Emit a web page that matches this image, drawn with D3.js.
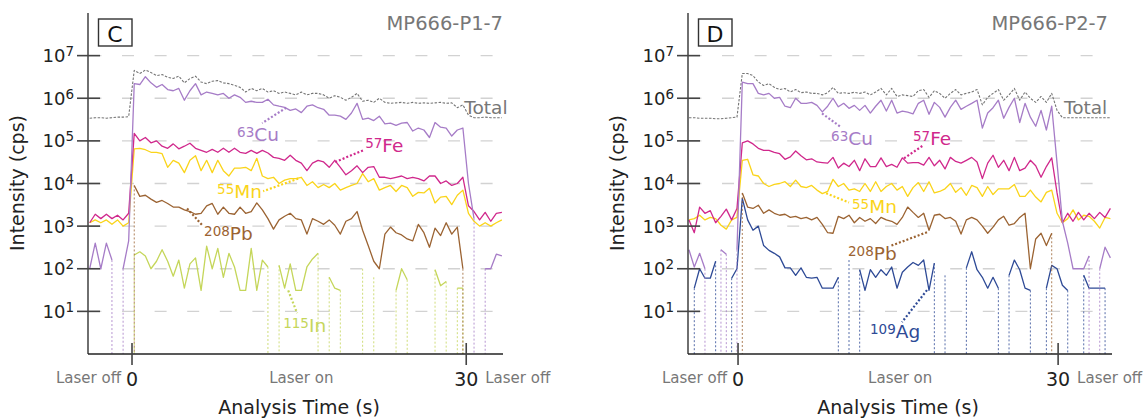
<!DOCTYPE html>
<html>
<head>
<meta charset="utf-8">
<script src="https://cdn.jsdelivr.net/npm/d3@7"></script>
<style>
body { margin: 0; background: #fff; }
svg { display: block; font-family: "DejaVu Sans", Verdana, sans-serif; }
</style>
</head>
<body>
<svg id="chart" width="1146" height="420"></svg>
<script>
// sampling times (s), one reading every 0.5 s
var timeC = d3.range(-3.8, 33.25, 0.5);
var timeD = d3.range(-4.6, 34.95, 0.5);

// ---- panel C : MP666-P1-7 (cps), 0 = no counts
var totalC = [3.4e5, 3.5e5, 3.5e5, 3.4e5, 3.5e5, 3.6e5, 3.6e5, 3.7e5,
  4.5e6, 3.8e6, 4.6e6, 4.0e6, 3.4e6, 3.6e6, 3.1e6, 2.9e6, 3.3e6, 2.3e6,
  2.9e6, 3.3e6, 2.4e6, 2.2e6, 2.5e6, 2.6e6, 2.3e6, 2.2e6, 2.0e6, 1.8e6,
  1.4e6, 1.7e6, 1.5e6, 1.7e6, 1.4e6, 1.5e6, 1.3e6, 1.4e6, 1.3e6, 1.2e6,
  1.4e6, 1.2e6, 1.3e6, 1.3e6, 1.2e6, 1.0e6, 1.15e6, 1.05e6, 9e5, 1.05e6,
  1.3e6, 8.5e5, 9e5, 8e5, 1.0e6, 8e5, 7.6e5, 7.8e5, 8e5, 7.6e5,
  8e5, 7.6e5, 7.8e5, 7.6e5, 7.8e5, 8e5, 7.6e5, 7.8e5, 6e5, 7e5,
  4e5, 3.5e5, 3.5e5, 3.6e5, 3.5e5, 3.5e5, 3.5e5];
var cuC = [100, 400, 100, 400, 160, 0, 100, 450,
  2.2e6, 2.1e6, 3.2e6, 2.3e6, 1.8e6, 2.1e6, 1.6e6, 1.5e6, 1.7e6, 9e5,
  1.5e6, 2.2e6, 1.2e6, 1.4e6, 1.3e6, 1.2e6, 1.3e6, 1.0e6, 1.2e6, 1.05e6,
  8e5, 8.5e5, 8e5, 8e5, 9.5e5, 7e5, 6.5e5, 6.1e5, 5.2e5, 5.6e5,
  4.6e5, 6.5e5, 7e5, 6e5, 5.5e5, 4e5, 4e5, 3.8e5, 3.2e5, 4.5e5,
  7.6e5, 3.2e5, 3.4e5, 3.0e5, 3.8e5, 2.5e5, 2.6e5, 2.3e5, 2.6e5, 2.7e5,
  1.7e5, 2.0e5, 1.8e5, 1.2e5, 2.7e5, 2.1e5, 2.0e5, 1.3e5, 1.8e5, 2.0e5,
  1.0e4, 1.5e3, 0, 100, 100, 220, 200];
var feC = [1.2e3, 1.9e3, 1.5e3, 1.9e3, 1.5e3, 1.8e3, 1.4e3, 2.0e3,
  1.5e5, 1.0e5, 1.2e5, 9e4, 1.0e5, 7.5e4, 6.7e4, 8.5e4, 6.5e4, 7.5e4,
  8.8e4, 6.7e4, 6.0e4, 5.4e4, 6.3e4, 5.4e4, 6.7e4, 5.4e4, 6.7e4, 5.4e4,
  5.1e4, 6.0e4, 5.1e4, 6.0e4, 5.2e4, 4.1e4, 3.9e4, 3.5e4, 4.6e4, 3.5e4,
  3.0e4, 2.0e4, 3.0e4, 3.5e4, 3.2e4, 2.4e4, 3.5e4, 2.4e4, 1.6e4, 2.0e4,
  2.6e4, 1.8e4, 2.4e4, 2.5e4, 1.4e4, 1.4e4, 1.3e4, 1.4e4, 1.5e4, 1.3e4,
  1.4e4, 1.3e4, 1.15e4, 1.5e4, 1.5e4, 1.0e4, 1.15e4, 9e3, 1.0e4, 1.4e4,
  3e3, 2.2e3, 1.4e3, 2.1e3, 1.3e3, 2.0e3, 2.1e3];
var mnC = [1.2e3, 1.4e3, 1.2e3, 1.4e3, 1.1e3, 1.4e3, 1.0e3, 1.2e3,
  6.5e4, 6.7e4, 6.2e4, 5.4e4, 5.4e4, 5.0e4, 2.4e4, 3.5e4, 3.0e4, 1.8e4,
  3.5e4, 4.5e4, 2.0e4, 3.5e4, 1.8e4, 3.5e4, 2.0e4, 1.5e4, 2.3e4, 2.3e4,
  2.4e4, 2.0e4, 3.9e4, 1.5e4, 1.3e4, 1.4e4, 1.0e4, 1.2e4, 1.3e4, 1.3e4,
  1.4e4, 9e3, 1.1e4, 8e3, 9.5e3, 8e3, 1.0e4, 7e3, 8e3, 9e3,
  1.0e4, 1.7e4, 1.1e4, 1.3e4, 7e3, 8e3, 9e3, 6.5e3, 9e3, 8e3,
  5e3, 6.2e3, 6e3, 7.7e3, 3.5e3, 4.8e3, 5e3, 3.2e3, 5.3e3, 7e3,
  2.0e3, 1.3e3, 1.0e3, 1.2e3, 1.0e3, 1.2e3, 1.4e3];
var pbC = [0, 0, 0, 0, 0, 0, 0, 0,
  9e3, 5e3, 5.3e3, 4.3e3, 3.6e3, 4.0e3, 3.4e3, 2.8e3, 2.8e3, 2.4e3,
  2.2e3, 1.9e3, 2.0e3, 3.0e3, 3.4e3, 1.9e3, 2.8e3, 2.0e3, 1.9e3, 2.8e3,
  2.0e3, 2.2e3, 3.5e3, 2.4e3, 1.5e3, 850, 1.4e3, 1.7e3, 2.0e3, 1.5e3,
  1.4e3, 650, 1.5e3, 1.3e3, 1.1e3, 1.4e3, 1.05e3, 650, 1.3e3, 1.5e3,
  2.2e3, 800, 350, 150, 100, 650, 950, 700, 620, 500,
  450, 1.1e3, 700, 320, 900, 600, 1.2e3, 650, 950, 100,
  0, 0, 0, 0, 0, 0, 0];
var inC = [0, 0, 0, 0, 0, 0, 0, 0,
  210, 250, 200, 100, 150, 280, 150, 67, 160, 35,
  130, 180, 31, 340, 100, 300, 63, 230, 110, 31,
  31, 300, 31, 160, 110, 0, 120, 35, 130, 31,
  31, 110, 170, 230, 0, 63, 35, 31, 0, 0,
  0, 100, 0, 63, 0, 0, 0, 31, 100, 55,
  0, 0, 0, 0, 95, 40, 50, 0, 35, 35,
  0, 0, 0, 0, 0, 0, 0];

// ---- panel D : MP666-P2-7 (cps)
var totalD = [3.5e5, 3.5e5, 3.4e5, 3.4e5, 3.4e5, 3.3e5, 3.3e5, 3.4e5, 3.5e5, 3.6e5,
  3.8e6, 3.8e6, 3.4e6, 2.4e6, 2.0e6, 2.2e6, 1.8e6, 1.6e6, 1.7e6, 1.4e6,
  1.6e6, 1.35e6, 1.4e6, 1.3e6, 1.3e6, 1.2e6, 1.35e6, 1.8e6, 1.3e6, 1.35e6,
  1.3e6, 1.38e6, 1.3e6, 1.4e6, 1.2e6, 1.4e6, 1.7e6, 1.2e6, 1.7e6, 1.1e6,
  1.2e6, 1.15e6, 1.1e6, 1.5e6, 1.6e6, 1.05e6, 1.5e6, 1.3e6, 1.0e6, 1.3e6,
  1.6e6, 1.2e6, 1.3e6, 1.4e6, 1.6e6, 7e5, 1.05e6, 1.3e6, 1.6e6, 9e5,
  1.2e6, 1.7e6, 9e5, 1.4e6, 1.0e6, 8e5, 1.1e6, 8e5, 1.3e6,
  5.2e5, 3.5e5, 3.5e5, 3.5e5, 3.5e5, 3.5e5, 3.5e5, 3.5e5, 3.5e5, 3.5e5, 3.5e5];
var cuD = [280, 110, 230, 100, 0, 0, 280, 220, 0, 280,
  2.4e6, 2.2e6, 2.2e6, 1.3e6, 1.2e6, 1.3e6, 1.0e6, 1.05e6, 6.5e5, 6e5,
  1.0e6, 7.6e5, 7.6e5, 8e5, 6.8e5, 4.8e5, 6.5e5, 1.0e6, 6.3e5, 7.6e5,
  5.8e5, 6.8e5, 5.2e5, 6.8e5, 4.5e5, 6.5e5, 9e5, 5e5, 9e5, 4.5e5,
  5e5, 4.7e5, 4.3e5, 7.6e5, 9e5, 4.2e5, 8e5, 6.1e5, 3.6e5, 6.1e5,
  9e5, 5.5e5, 6.5e5, 7.6e5, 9e5, 2.0e5, 4.5e5, 6e5, 9e5, 3.4e5,
  6.1e5, 1.0e6, 2.7e5, 7.6e5, 3.6e5, 2.2e5, 5.2e5, 1.8e5, 6.5e5,
  3e4, 1.3e3, 400, 100, 100, 100, 200, 0, 100, 320, 180];
var feD = [1.4e3, 700, 2.8e3, 2.0e3, 2.3e3, 1.2e3, 1.7e3, 2.5e3, 1.4e3, 2.6e3,
  9e4, 1.0e5, 8.5e4, 6.7e4, 6e4, 6e4, 5.4e4, 5e4, 3.7e4, 4.2e4,
  5.8e4, 4.5e4, 3.6e4, 3.8e4, 3.2e4, 3.1e4, 3.0e4, 4.1e4, 2.3e4, 3.0e4,
  2.5e4, 3.5e4, 2.0e4, 3.8e4, 2.5e4, 2.5e4, 4.0e4, 2.5e4, 2.8e4, 2.4e4,
  4.0e4, 3.0e4, 3.1e4, 3.1e4, 2.7e4, 4.1e4, 2.6e4, 3.5e4, 2.2e4, 4.1e4,
  3.3e4, 3.0e4, 3.5e4, 4.1e4, 3.2e4, 1.3e4, 3.0e4, 4.6e4, 2.4e4, 3.5e4,
  2.0e4, 4.1e4, 2.0e4, 2.3e4, 3.5e4, 2.6e4, 1.4e4, 2.5e4, 4.0e4,
  6e3, 1.2e3, 2.0e3, 1.3e3, 2.1e3, 1.4e3, 2.0e3, 1.5e3, 2.1e3, 1.6e3, 2.6e3];
var mnD = [1.4e3, 1.5e3, 1.8e3, 1.4e3, 1.6e3, 1.5e3, 1.05e3, 850, 1.4e3, 1.6e3,
  3.5e4, 3.7e4, 1.6e4, 1.5e4, 1.0e4, 8.5e3, 9.5e3, 1.0e4, 1.1e4, 8.5e3,
  1.2e4, 8.5e3, 8e3, 9e3, 7e3, 5.8e3, 6.5e3, 1.25e4, 8.5e3, 1.0e4,
  7e3, 7.5e3, 6.5e3, 1.0e4, 6.5e3, 1.1e4, 6.5e3, 8.5e3, 1.0e4, 7e3,
  8.5e3, 5e3, 8e3, 1.05e4, 6.5e3, 1.1e4, 6e3, 6.5e3, 7.5e3, 1.0e4,
  6.2e3, 8e3, 5.3e3, 9e3, 8e3, 5e3, 8.5e3, 5.5e3, 7.5e3, 7.5e3,
  7.5e3, 9.5e3, 5e3, 5e3, 7e3, 4.8e3, 3.7e3, 6.2e3, 7e3,
  2e3, 1.2e3, 1.5e3, 2.4e3, 1.4e3, 1.8e3, 1.7e3, 1.3e3, 900, 1.6e3, 1.5e3];
var pbD = [0, 0, 0, 0, 0, 0, 0, 0, 0, 0,
  6e3, 2.8e3, 2.6e3, 3.1e3, 2.0e3, 2.4e3, 2.0e3, 1.8e3, 1.9e3, 1.6e3,
  1.7e3, 1.5e3, 1.6e3, 1.4e3, 1.6e3, 1.1e3, 700, 680, 1.7e3, 1.5e3,
  1.8e3, 1.2e3, 1.6e3, 1.3e3, 1.5e3, 1.15e3, 1.6e3, 1.4e3, 1.3e3, 1.1e3,
  1.6e3, 2.8e3, 2.1e3, 1.6e3, 2.0e3, 800, 1.8e3, 1.9e3, 1.5e3, 1.6e3,
  1.3e3, 650, 1.4e3, 1.6e3, 1.4e3, 1.0e3, 680, 950, 1.4e3, 1.7e3,
  1.05e3, 1.15e3, 1.6e3, 2.0e3, 100, 500, 680, 350, 680,
  0, 0, 0, 0, 0, 0, 0, 0, 0, 0, 0];
var agD = [0, 35, 100, 60, 60, 150, 0, 0, 60, 100,
  4.5e3, 1.4e3, 800, 1.0e3, 350, 270, 230, 190, 105, 105,
  70, 105, 63, 60, 63, 35, 35, 35, 63, 0,
  160, 0, 95, 31, 95, 63, 95, 70, 110, 35,
  83, 110, 140, 120, 160, 31, 135, 0, 70, 0,
  0, 0, 105, 250, 95, 63, 35, 63, 35, 0,
  70, 160, 95, 35, 31, 0, 0, 35, 120,
  100, 41, 31, 0, 0, 70, 35, 35, 35, 35, 0];

var decades = [1e1, 1e2, 1e3, 1e4, 1e5, 1e6, 1e7];
var colors = { Total: "#757575", Cu: "#a67cc7", Fe: "#d0288c", Mn: "#fad41a",
  Pb: "#9b6332", In: "#c5d65a", Ag: "#2e4a96" };

var panels = [
  { id: "C", sample: "MP666-P1-7", left: 88, right: 503, gridRight: 498, titleRight: 503,
    domain: [-3.95, 33.3], time: timeC,
    series: [["Total", totalC], ["In", inC], ["Pb", pbC], ["Mn", mnC], ["Fe", feC], ["Cu", cuC]],
    // label position [t, cps], leader from line point to label
    notes: [
      { el: "Cu", sup: "63", at: [9.43, 1.0e5], from: [13.84, 6e5], to: [11.68, 2.6e5] },
      { el: "Fe", sup: "57", at: [20.93, 5.4e4], from: [18.24, 3.2e4], to: [20.75, 6e4] },
      { el: "Mn", sup: "55", at: [7.64, 4.5e3], from: [14.91, 1.3e4], to: [11.77, 6.6e3] },
      { el: "Pb", sup: "208", at: [6.47, 470], from: [4.94, 2.6e3], to: [6.38, 1e3] },
      { el: "In", sup: "115", at: [13.57, 3.2], from: [14.02, 31], to: [14.82, 9.1] },
      { el: "Total", sup: "", at: [29.83, 4.2e5] }
    ] },
  { id: "D", sample: "MP666-P2-7", left: 688, right: 1112, gridRight: 1098, titleRight: 1108,
    domain: [-4.69, 35.05], time: timeD,
    series: [["Total", totalD], ["Ag", agD], ["Pb", pbD], ["Mn", mnD], ["Fe", feD], ["Cu", cuD]],
    notes: [
      { el: "Cu", sup: "63", at: [8.72, 7.8e4], from: [7.87, 4.4e5], to: [9.65, 2.1e5] },
      { el: "Fe", sup: "57", at: [16.4, 7.8e4], from: [15.56, 3.9e4], to: [17.34, 7.8e4] },
      { el: "Mn", sup: "55", at: [10.68, 2.0e3], from: [8.25, 5.9e3], to: [10.4, 3.6e3] },
      { el: "Pb", sup: "208", at: [10.31, 160], from: [17.71, 720], to: [14.25, 340] },
      { el: "Ag", sup: "109", at: [12.37, 2.4], from: [17.71, 31.6], to: [15.37, 5.6] },
      { el: "Total", sup: "", at: [30.55, 4.2e5] }
    ] }
];

var svg = d3.select("#chart");
var y = d3.scaleLog().domain([1, 1e8]).range([354, 13]);

panels.forEach(function (p) {
  var x = d3.scaleLinear().domain(p.domain).range([p.left, p.right]);
  var g = svg.append("g");

  // dashed decade grid
  g.selectAll("line.grid").data(decades).enter().append("line")
    .attr("class", "grid")
    .attr("x1", p.left).attr("x2", p.gridRight)
    .attr("y1", function (d) { return y(d); }).attr("y2", function (d) { return y(d); })
    .attr("stroke", "#d2d2d2").attr("stroke-width", 1.4)
    .attr("stroke-dasharray", "12 20.6").attr("stroke-dashoffset", -1.4);

  // signals
  p.series.forEach(function (s) {
    var name = s[0], col = colors[name];
    var pts = p.time.map(function (t, i) { return { t: t, v: s[1][i] }; });
    var line = d3.line().defined(function (d) { return d.v > 0; })
      .x(function (d) { return x(d.t); }).y(function (d) { return y(d.v); });

    // zero counts: dotted drop to the baseline
    var drops = pts.filter(function (d, i) {
      return d.v > 0 && ((i > 0 && pts[i - 1].v === 0) || (i < pts.length - 1 && pts[i + 1].v === 0));
    });
    g.selectAll(null).data(drops).enter().append("line")
      .attr("x1", function (d) { return x(d.t); }).attr("x2", function (d) { return x(d.t); })
      .attr("y1", function (d) { return y(d.v); }).attr("y2", y(1))
      .attr("stroke", col).attr("stroke-width", 1).attr("stroke-dasharray", "2 2")
      .attr("opacity", 0.8);

    var path = g.append("path").datum(pts).attr("d", line)
      .attr("fill", "none").attr("stroke", col).attr("stroke-linejoin", "round");
    if (name === "Total") {
      path.attr("stroke-width", 1.1).attr("stroke-dasharray", "2.5 1.5");
    } else {
      path.attr("stroke-width", 1.3);
    }
  });

  // axes
  g.append("line").attr("x1", p.left).attr("x2", p.left).attr("y1", y(1e8)).attr("y2", y(1))
    .attr("stroke", "#222").attr("stroke-width", 1.3);
  g.append("line").attr("x1", p.left).attr("x2", p.right).attr("y1", y(1)).attr("y2", y(1))
    .attr("stroke", "#222").attr("stroke-width", 1.3);
  g.selectAll("line.ytick").data(decades).enter().append("line")
    .attr("class", "ytick")
    .attr("x1", p.left - 11).attr("x2", p.left + 12)
    .attr("y1", function (d) { return y(d); }).attr("y2", function (d) { return y(d); })
    .attr("stroke", "#444").attr("stroke-width", 1.6);
  decades.forEach(function (d) {
    var lab = g.append("text").attr("x", p.left - 14).attr("y", y(d) + 6.5)
      .attr("text-anchor", "end").attr("fill", "#222").style("font-size", "18px");
    lab.append("tspan").text("10");
    lab.append("tspan").text(Math.round(Math.log10(d))).style("font-size", "13.5px").attr("dy", -6);
  });
  g.selectAll("line.xtick").data([0, 30]).enter().append("line")
    .attr("class", "xtick")
    .attr("x1", function (d) { return x(d); }).attr("x2", function (d) { return x(d); })
    .attr("y1", y(1) - 11).attr("y2", y(1) + 11)
    .attr("stroke", "#444").attr("stroke-width", 1.6);
  g.selectAll("text.xlab").data([0, 30]).enter().append("text")
    .attr("class", "xlab")
    .attr("x", function (d) { return x(d); }).attr("y", 386)
    .attr("text-anchor", "middle").attr("fill", "#222").style("font-size", "19px")
    .text(function (d) { return d; });

  var grey = "#777";
  g.append("text").attr("x", x(0) - 11).attr("y", 383).attr("text-anchor", "end")
    .attr("fill", grey).style("font-size", "15px").text("Laser off");
  g.append("text").attr("x", x(15.2)).attr("y", 383).attr("text-anchor", "middle")
    .attr("fill", grey).style("font-size", "15px").text("Laser on");
  g.append("text").attr("x", x(30) + 19).attr("y", 383)
    .attr("fill", grey).style("font-size", "15px").text("Laser off");

  g.append("text").attr("x", x(15)).attr("y", 414).attr("text-anchor", "middle")
    .attr("fill", "#222").style("font-size", "19px").text("Analysis Time (s)");
  g.append("text").attr("transform", "translate(" + (p.left - 64) + ",183) rotate(-90)")
    .attr("text-anchor", "middle").attr("fill", "#222").style("font-size", "19px")
    .text("Intensity (cps)");

  // panel letter and sample name
  g.append("rect").attr("x", p.left + 10.5).attr("y", 19).attr("width", 33.5).attr("height", 27)
    .attr("fill", "#fff").attr("stroke", "#333").attr("stroke-width", 1.4);
  g.append("text").attr("x", p.left + 27).attr("y", 41.5).attr("text-anchor", "middle")
    .attr("fill", "#111").style("font-size", "22px").text(p.id);
  g.append("text").attr("x", p.titleRight).attr("y", 30).attr("text-anchor", "end")
    .attr("fill", grey).style("font-size", "19.5px").text(p.sample);

  // isotope labels with dotted leaders
  p.notes.forEach(function (n) {
    var col = n.el === "Total" ? grey : colors[n.el];
    if (n.from) {
      g.append("line")
        .attr("x1", x(n.from[0])).attr("y1", y(n.from[1]))
        .attr("x2", x(n.to[0])).attr("y2", y(n.to[1]))
        .attr("stroke", col).attr("stroke-width", 2.2).attr("stroke-dasharray", "2 2");
    }
    var t = g.append("text").attr("x", x(n.at[0])).attr("y", y(n.at[1]))
      .attr("fill", col).style("font-size", "18.5px");
    if (n.sup) {
      t.append("tspan").text(n.sup).style("font-size", "13.5px").attr("dy", -4);
      t.append("tspan").text(n.el).attr("dy", 4);
    } else {
      t.text(n.el);
    }
  });
});
</script>
</body>
</html>
